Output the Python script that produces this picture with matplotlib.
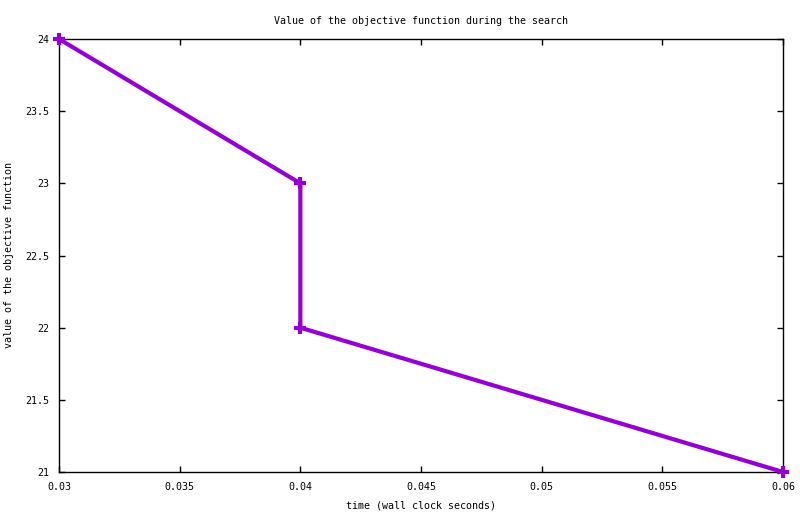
import numpy as np
import matplotlib
matplotlib.use("Agg")
import matplotlib.pyplot as plt

# search progress: wall clock time vs objective value
times = [0.03, 0.04, 0.04, 0.06]
objective = [24, 23, 22, 21]

x_ticks = [0.03, 0.035, 0.04, 0.045, 0.05, 0.055, 0.06]
x_labels = ["0.03", "0.035", "0.04", "0.045", "0.05", "0.055", "0.06"]
y_ticks = [21, 21.5, 22, 22.5, 23, 23.5, 24]
y_labels = ["21", "21.5", "22", "22.5", "23", "23.5", "24"]

plt.rcParams['font.family'] = ['DejaVu Sans Mono']
plt.rcParams['font.size'] = 7.2

fig = plt.figure(figsize=(8, 5.14), dpi=100)
ax = fig.add_axes([59 / 800, 1 - 472 / 514, (783 - 59) / 800, (472 - 39) / 514])

ax.plot(times, objective, color="#9400d3", linewidth=3, marker="+",
        markersize=8, markeredgewidth=3, solid_joinstyle="miter",
        clip_on=False, zorder=3)

ax.set_xlim(0.03, 0.06)
ax.set_ylim(21, 24)
ax.set_xticks(x_ticks)
ax.set_xticklabels(x_labels)
ax.set_yticks(y_ticks)
ax.set_yticklabels(y_labels)
ax.tick_params(direction="in", top=True, right=True, length=4, width=1, pad=7,
               labelsize=7.2)
for s in ax.spines.values():
    s.set_linewidth(1)

ax.set_title("Value of the objective function during the search", fontsize=7.2,
             pad=11)
ax.set_xlabel("time (wall clock seconds)", labelpad=6)
ax.set_ylabel("value of the objective function", labelpad=8)

fig.savefig("out.png", dpi=100)
